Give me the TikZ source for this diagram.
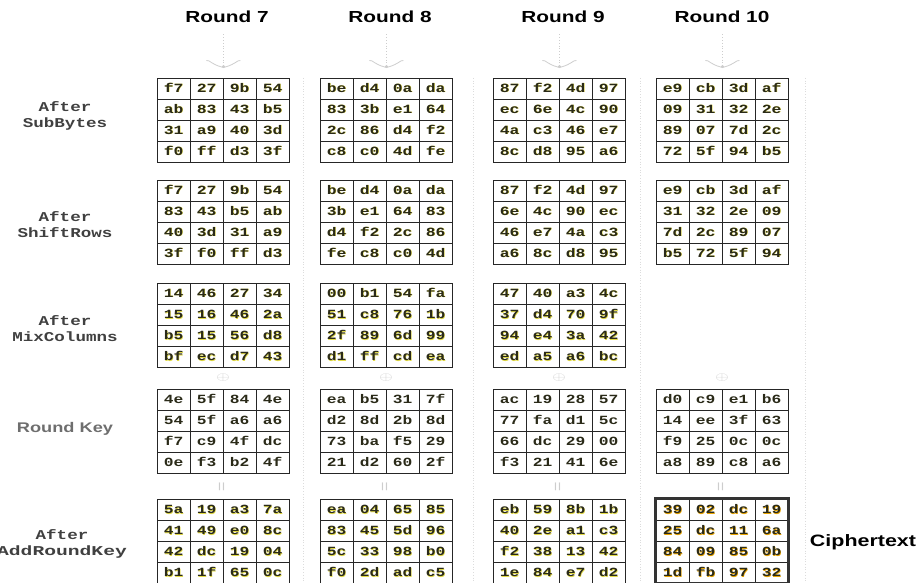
\documentclass[tikz,border=0pt]{standalone}
\usepackage{fontspec}
\usepackage{graphicx}
\setmainfont{Liberation Sans}
\newfontfamily\monof{Liberation Mono}[FakeStretch=1.3]
\newfontfamily\sansf{Liberation Sans}[FakeStretch=1.3]
\definecolor{glowY}{HTML}{E2DA48}
\definecolor{glowO}{HTML}{E8A400}
\definecolor{hexc}{HTML}{2A2A18}
\definecolor{faint}{HTML}{CDCDCD}
\definecolor{keygray}{HTML}{6E6E6E}
\newcommand\glowtxt[2]{\makebox[0pt][l]{\kern0.6pt\raisebox{-0.5pt}{\color{#1}#2}}#2}
\tikzset{
  cell/.style={draw=black!85, line width=0.9pt, minimum width=33pt, minimum height=21pt,
    inner sep=0pt, text height=8pt, text depth=0pt, text=hexc,
    font=\monof\bfseries\fontsize{12.5}{12.5}\selectfont},
  hdr/.style={font=\sansf\bfseries\fontsize{16}{16}\selectfont, text=black},
  lbl/.style={align=center, font=\monof\bfseries\fontsize{13.5}{16}\selectfont, text=black!75},
  keylbl/.style={font=\sansf\bfseries\fontsize{14}{14}\selectfont, text=keygray},
  sep/.style={draw=faint!70, line width=0.7pt, dotted},
  faintline/.style={draw=faint, line width=0.8pt},
  faintsym/.style={text=faint, inner sep=0pt}
}
\newcommand\hexgrid[5]{%
  \foreach \v [count=\k from 0] in {#5} {
    \pgfmathtruncatemacro\cc{mod(\k,4)}
    \pgfmathtruncatemacro\rr{div(\k,4)}
    \node[cell] (#1-\k) at ({#2+33*\cc+16.5},{-(#3+21*\rr+10.5)}) {\glowtxt{#4}{\v}};
  }}
\newcommand\hdrarrow[2]{%
  \draw[faintline, dotted, line width=1.1pt] ([yshift=-8pt]#1.south -| #2) -- ([yshift=10pt]#2);
  \draw[faintline] ([yshift=10pt]#2) .. controls +(-4pt,1pt) and +(5pt,-3pt) .. ([xshift=-12pt,yshift=15pt]#2)
     .. controls +(-3pt,2pt) and +(2pt,0pt) .. ([xshift=-17pt,yshift=17pt]#2);
  \draw[faintline] ([yshift=10pt]#2) .. controls +(4pt,1pt) and +(-5pt,-3pt) .. ([xshift=12pt,yshift=15pt]#2)
     .. controls +(3pt,2pt) and +(-2pt,0pt) .. ([xshift=17pt,yshift=17pt]#2);
  \fill[faint] ([yshift=11pt]#2) circle (1.6pt);
}
\begin{document}
\begin{tikzpicture}[x=1pt,y=1pt]
\useasboundingbox (0,0) rectangle (922,-583);
% separators
\foreach \sx in {303,473,640,805} { \draw[sep] (\sx,-78) -- (\sx,-583); }
% headers
\node[hdr] (h7) at (227,-17) {Round 7};
\node[hdr] (h8) at (390,-17) {Round 8};
\node[hdr] (h9) at (563,-17) {Round 9};
\node[hdr] (h10) at (722,-17) {Round 10};
% left labels
\node[lbl] (lsb) at (65,-116) {After\\SubBytes};
\node[lbl] (lsr) at (65,-225) {After\\ShiftRows};
\node[lbl] (lmc) at (65,-329) {After\\MixColumns};
\node[keylbl] (lrk) at (65,-429) {Round Key};
\node[lbl] (lark) at (62,-544) {After\\\scalebox{1.12}[1]{AddRoundKey}};
\node[font=\sansf\bfseries\fontsize{16.5}{16.5}\selectfont] (ct) at (863,-542) {Ciphertext};
% Round 7
\hexgrid{r7sb}{157}{78}{glowY}{f7,27,9b,54,ab,83,43,b5,31,a9,40,3d,f0,ff,d3,3f}
\hexgrid{r7sr}{157}{180}{glowY}{f7,27,9b,54,83,43,b5,ab,40,3d,31,a9,3f,f0,ff,d3}
\hexgrid{r7mc}{157}{283}{glowY}{14,46,27,34,15,16,46,2a,b5,15,56,d8,bf,ec,d7,43}
\hexgrid{r7rk}{157}{389}{white}{4e,5f,84,4e,54,5f,a6,a6,f7,c9,4f,dc,0e,f3,b2,4f}
\hexgrid{r7ak}{157}{499}{glowY}{5a,19,a3,7a,41,49,e0,8c,42,dc,19,04,b1,1f,65,0c}
% Round 8
\hexgrid{r8sb}{320}{78}{glowY}{be,d4,0a,da,83,3b,e1,64,2c,86,d4,f2,c8,c0,4d,fe}
\hexgrid{r8sr}{320}{180}{glowY}{be,d4,0a,da,3b,e1,64,83,d4,f2,2c,86,fe,c8,c0,4d}
\hexgrid{r8mc}{320}{283}{glowY}{00,b1,54,fa,51,c8,76,1b,2f,89,6d,99,d1,ff,cd,ea}
\hexgrid{r8rk}{320}{389}{white}{ea,b5,31,7f,d2,8d,2b,8d,73,ba,f5,29,21,d2,60,2f}
\hexgrid{r8ak}{320}{499}{glowY}{ea,04,65,85,83,45,5d,96,5c,33,98,b0,f0,2d,ad,c5}
% Round 9
\hexgrid{r9sb}{493}{78}{glowY}{87,f2,4d,97,ec,6e,4c,90,4a,c3,46,e7,8c,d8,95,a6}
\hexgrid{r9sr}{493}{180}{glowY}{87,f2,4d,97,6e,4c,90,ec,46,e7,4a,c3,a6,8c,d8,95}
\hexgrid{r9mc}{493}{283}{glowY}{47,40,a3,4c,37,d4,70,9f,94,e4,3a,42,ed,a5,a6,bc}
\hexgrid{r9rk}{493}{389}{white}{ac,19,28,57,77,fa,d1,5c,66,dc,29,00,f3,21,41,6e}
\hexgrid{r9ak}{493}{499}{glowY}{eb,59,8b,1b,40,2e,a1,c3,f2,38,13,42,1e,84,e7,d2}
% Round 10
\hexgrid{r10sb}{656}{78}{glowY}{e9,cb,3d,af,09,31,32,2e,89,07,7d,2c,72,5f,94,b5}
\hexgrid{r10sr}{656}{180}{glowY}{e9,cb,3d,af,31,32,2e,09,7d,2c,89,07,b5,72,5f,94}
\hexgrid{r10rk}{656}{389}{white}{d0,c9,e1,b6,14,ee,3f,63,f9,25,0c,0c,a8,89,c8,a6}
\hexgrid{r10ak}{656}{499}{glowO}{39,02,dc,19,25,dc,11,6a,84,09,85,0b,1d,fb,97,32}
\draw[draw=black!80, line width=2.4pt] (r10ak-0.north west) rectangle (r10ak-15.south east);
% header arrows
\hdrarrow{h7}{r7sb-1.north east}
\hdrarrow{h8}{r8sb-1.north east}
\hdrarrow{h9}{r9sb-1.north east}
\hdrarrow{h10}{r10sb-1.north east}
% xor and equals symbols
\foreach \g/\cx in {7/223,8/386,9/559,10/722} {
  \node[faintsym, font=\fontsize{15}{15}\selectfont] (x\g) at (\cx,-378) {\scalebox{1.2}[0.8]{$\oplus$}};
  \node[faintsym, font=\fontsize{16}{16}\selectfont] (e\g) at (\cx,-487) {\rotatebox{90}{=}};
}
\end{tikzpicture}
\end{document}
